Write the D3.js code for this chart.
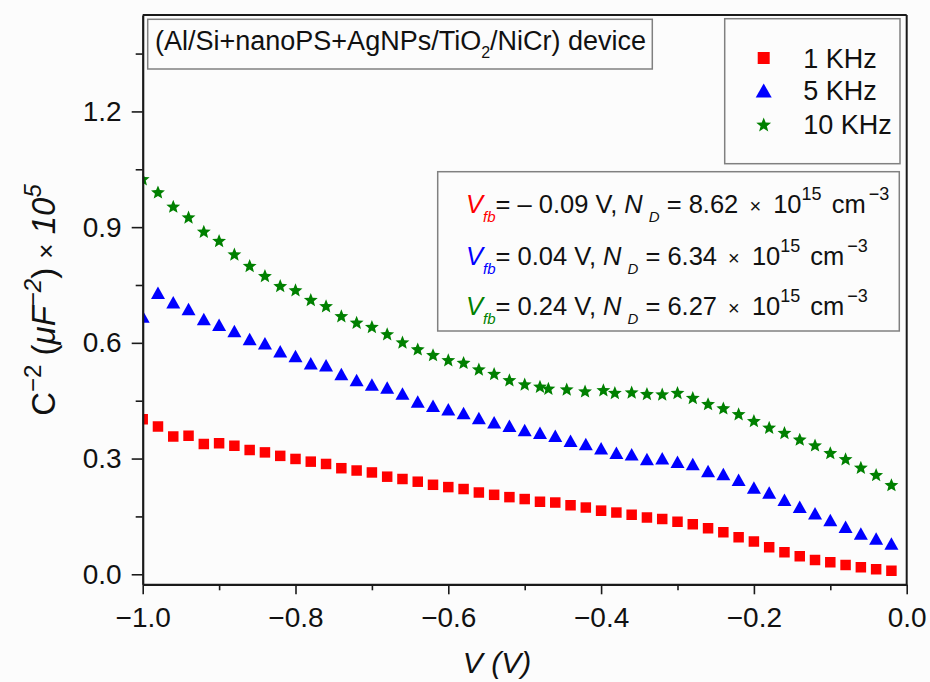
<!DOCTYPE html>
<html>
<head>
<meta charset="utf-8">
<script src="https://cdn.jsdelivr.net/npm/d3@7"></script>
<style>
  html, body { margin: 0; padding: 0; background: #fcfcfc; }
  svg { display: block; }
  text { font-family: "Liberation Sans", Arial, sans-serif; }
</style>
</head>
<body>
<svg id="chart" width="930" height="682"></svg>
<script>
// ---- data ----------------------------------------------------------------
const voltage = [
  -1.00, -0.98, -0.96, -0.94, -0.92, -0.90, -0.88, -0.86, -0.84, -0.82,
  -0.80, -0.78, -0.76, -0.74, -0.72, -0.70, -0.68, -0.66, -0.64, -0.62,
  -0.60, -0.58, -0.56, -0.54, -0.52, -0.50, -0.48, -0.46, -0.44, -0.42,
  -0.40, -0.38, -0.36, -0.34, -0.32, -0.30, -0.28, -0.26, -0.24, -0.22,
  -0.20, -0.18, -0.16, -0.14, -0.12, -0.10, -0.08, -0.06, -0.04, -0.02
];
// the 10 kHz sweep has a few unevenly spaced points near -0.4 V
const voltage10k = [
  -1.00, -0.98, -0.96, -0.94, -0.92, -0.90, -0.88, -0.86, -0.84, -0.82,
  -0.80, -0.78, -0.76, -0.74, -0.72, -0.70, -0.68, -0.66, -0.64, -0.62,
  -0.60, -0.58, -0.56, -0.54, -0.52, -0.50, -0.48, -0.469, -0.445, -0.421,
  -0.397, -0.382, -0.36, -0.34, -0.32, -0.30, -0.28, -0.26, -0.24, -0.22,
  -0.20, -0.18, -0.16, -0.14, -0.12, -0.10, -0.08, -0.06, -0.04, -0.02
];
const c2_1k = [
  0.402, 0.383, 0.357, 0.359, 0.338, 0.340, 0.333, 0.322, 0.316, 0.307,
  0.299, 0.292, 0.286, 0.275, 0.269, 0.264, 0.253, 0.247, 0.240, 0.232,
  0.226, 0.221, 0.212, 0.206, 0.200, 0.195, 0.188, 0.186, 0.179, 0.173,
  0.165, 0.160, 0.154, 0.147, 0.143, 0.136, 0.130, 0.119, 0.109, 0.096,
  0.085, 0.070, 0.057, 0.047, 0.037, 0.031, 0.024, 0.018, 0.013, 0.009
];
const c2_5k = [
  0.668, 0.730, 0.705, 0.688, 0.662, 0.647, 0.631, 0.610, 0.599, 0.578,
  0.566, 0.547, 0.542, 0.519, 0.504, 0.492, 0.484, 0.469, 0.448, 0.437,
  0.428, 0.418, 0.405, 0.394, 0.385, 0.374, 0.367, 0.359, 0.346, 0.338,
  0.327, 0.315, 0.311, 0.299, 0.301, 0.292, 0.286, 0.268, 0.260, 0.245,
  0.225, 0.212, 0.193, 0.175, 0.158, 0.141, 0.123, 0.106, 0.093, 0.080
];
const c2_10k = [
  1.025, 0.991, 0.954, 0.926, 0.889, 0.865, 0.830, 0.800, 0.774, 0.748,
  0.737, 0.712, 0.696, 0.670, 0.653, 0.642, 0.623, 0.602, 0.584, 0.569,
  0.556, 0.549, 0.532, 0.520, 0.504, 0.493, 0.487, 0.482, 0.480, 0.475,
  0.478, 0.471, 0.472, 0.468, 0.467, 0.471, 0.458, 0.442, 0.431, 0.416,
  0.398, 0.381, 0.367, 0.350, 0.335, 0.315, 0.299, 0.277, 0.258, 0.232
];

const seriesNames = ["1 KHz", "5 KHz", "10 KHz"];
const seriesColors = ["#ff0000", "#0000ff", "#008000"];
const flatBandV = ["– 0.09", "0.04", "0.24"];
const donorDensity = ["8.62", "6.34", "6.27"];

const xMajorTicks = [-1.0, -0.8, -0.6, -0.4, -0.2, 0.0];
const xMinorTicks = [-0.9, -0.7, -0.5, -0.3, -0.1];
const yMajorTicks = [0.0, 0.3, 0.6, 0.9, 1.2];
const yMinorTicks = [0.15, 0.45, 0.75, 1.05, 1.35];

const deviceTitle = "(Al/Si+nanoPS+AgNPs/TiO";
const deviceTitleTail = "/NiCr) device";

(function draw() {
  // ---- layout ------------------------------------------------------------
  const svg = d3.select("#chart");
  const plotLeft = 142.7, plotRight = 906.7, plotTop = 15, plotBottom = 584.3;

  const x = d3.scaleLinear().domain([-1.0, 0.0]).range([plotLeft, plotRight]);
  const y = d3.scaleLinear().domain([-0.026, 1.45]).range([plotBottom, plotTop]);

  const frameColor = "#1a1a1a";
  const boxColor = "#808080";
  const bg = "#fcfcfc";
  const tickFont = 28;
  const fmt = d3.format(".1f");

  svg.append("defs").append("clipPath").attr("id", "plot-clip")
    .append("rect").attr("x", plotLeft).attr("y", plotTop)
    .attr("width", plotRight - plotLeft).attr("height", plotBottom - plotTop);

  // ---- markers (clipped to the plot frame) ---------------------------------
  const triangleShape = (w, h) => ({
    draw(ctx) {
      ctx.moveTo(0, -h / 2);
      ctx.lineTo(w / 2, h / 2);
      ctx.lineTo(-w / 2, h / 2);
      ctx.closePath();
    }
  });
  const starShape = (outer, inner) => ({
    draw(ctx) {
      for (let k = 0; k < 10; k++) {
        const r = k % 2 === 0 ? outer : inner;
        const a = -Math.PI / 2 + k * Math.PI / 5;
        const px = r * Math.cos(a), py = r * Math.sin(a) + outer * 0.09;
        if (k === 0) ctx.moveTo(px, py); else ctx.lineTo(px, py);
      }
      ctx.closePath();
    }
  });
  const markerPath = [
    d3.symbol(d3.symbolSquare, 10.5 * 10.5),
    d3.symbol(triangleShape(14, 12.5)),
    d3.symbol(starShape(7.3, 3.2))
  ];
  const legendMarkerPath = [
    d3.symbol(d3.symbolSquare, 12 * 12),
    d3.symbol(triangleShape(16, 14)),
    d3.symbol(starShape(7.8, 3.3))
  ];

  const seriesData = [
    voltage.map((v, i) => ({ v, c: c2_1k[i] })),
    voltage.map((v, i) => ({ v, c: c2_5k[i] })),
    voltage10k.map((v, i) => ({ v, c: c2_10k[i] }))
  ];

  const markerLayer = svg.append("g").attr("clip-path", "url(#plot-clip)");
  seriesData.forEach((pts, s) => {
    markerLayer.append("g").selectAll("path").data(pts).join("path")
      .attr("d", markerPath[s]())
      .attr("transform", d => `translate(${x(d.v)},${y(d.c)})`)
      .attr("fill", seriesColors[s]);
  });

  // ---- axes --------------------------------------------------------------
  svg.append("g").attr("transform", `translate(0,${plotBottom})`)
    .call(d3.axisBottom(x).tickValues(xMajorTicks).tickSize(10).tickSizeOuter(0)
      .tickPadding(13).tickFormat(fmt));
  svg.append("g").attr("transform", `translate(0,${plotBottom})`)
    .call(d3.axisBottom(x).tickValues(xMinorTicks).tickSize(6).tickSizeOuter(0).tickFormat(""))
    .call(g => g.select(".domain").remove());

  svg.append("g").attr("transform", `translate(${plotLeft},0)`)
    .call(d3.axisLeft(y).tickValues(yMajorTicks).tickSize(11).tickSizeOuter(0)
      .tickPadding(10).tickFormat(fmt));
  svg.append("g").attr("transform", `translate(${plotLeft},0)`)
    .call(d3.axisLeft(y).tickValues(yMinorTicks).tickSize(7).tickSizeOuter(0).tickFormat(""))
    .call(g => g.select(".domain").remove());

  svg.selectAll(".tick line").attr("stroke", frameColor).attr("stroke-width", 1.6);
  svg.selectAll(".domain").attr("stroke", frameColor).attr("stroke-width", 2.2);
  svg.selectAll(".tick text")
    .attr("font-family", "'Liberation Sans', Arial, sans-serif")
    .attr("font-size", tickFont).attr("fill", "#111");

  // top and right frame lines
  svg.append("line").attr("x1", plotLeft).attr("x2", plotRight)
    .attr("y1", plotTop).attr("y2", plotTop)
    .attr("stroke", frameColor).attr("stroke-width", 2);
  svg.append("line").attr("x1", plotRight).attr("x2", plotRight)
    .attr("y1", plotTop).attr("y2", plotBottom)
    .attr("stroke", frameColor).attr("stroke-width", 2);

  // ---- axis titles -------------------------------------------------------
  svg.append("text").attr("x", 497).attr("y", 673)
    .attr("text-anchor", "middle").attr("font-size", 30).attr("font-style", "italic")
    .attr("fill", "#111").text("V (V)");

  const yTitle = svg.append("text")
    .attr("transform", "translate(55,300) rotate(-90)")
    .attr("text-anchor", "middle").attr("font-size", 33).attr("fill", "#111");
  yTitle.append("tspan").text("C");
  yTitle.append("tspan").attr("dy", -14).attr("font-size", 24).text("−2");
  yTitle.append("tspan").attr("dy", 14).text(" (");
  yTitle.append("tspan").attr("font-style", "italic").text("μF");
  yTitle.append("tspan").attr("dy", -14).attr("font-size", 24).attr("font-style", "italic").text("−2");
  yTitle.append("tspan").attr("dy", 14).text(") ");
  yTitle.append("tspan").attr("font-size", 26).text("×");
  yTitle.append("tspan").attr("font-style", "italic").text(" 10");
  yTitle.append("tspan").attr("dy", -14).attr("font-size", 24).attr("font-style", "italic").text("5");

  // ---- device title box --------------------------------------------------
  svg.append("rect").attr("x", 147.7).attr("y", 19.3).attr("width", 504.6).attr("height", 49.7)
    .attr("fill", bg).attr("stroke", boxColor).attr("stroke-width", 1.5);
  const title = svg.append("text").attr("x", 155).attr("y", 50)
    .attr("font-size", 27).attr("fill", "#111");
  title.append("tspan").text(deviceTitle);
  title.append("tspan").attr("dy", 8).attr("font-size", 16).text("2");
  title.append("tspan").attr("dy", -8).text(deviceTitleTail);

  // ---- legend ------------------------------------------------------------
  svg.append("rect").attr("x", 724.7).attr("y", 18.7).attr("width", 175.3).attr("height", 145)
    .attr("fill", bg).attr("stroke", boxColor).attr("stroke-width", 1.5);
  const legendY = [58, 90.5, 124.5];
  seriesNames.forEach((name, s) => {
    svg.append("path").attr("d", legendMarkerPath[s]())
      .attr("transform", `translate(763.7,${legendY[s]})`).attr("fill", seriesColors[s]);
    svg.append("text").attr("x", 803.3).attr("y", legendY[s] + 9.5)
      .attr("font-size", 27).attr("fill", "#111").text(name);
  });

  // ---- flat-band / doping annotation -------------------------------------
  svg.append("rect").attr("x", 437.7).attr("y", 171.7).attr("width", 461.6).attr("height", 159.3)
    .attr("fill", bg).attr("stroke", boxColor).attr("stroke-width", 1.5);
  const noteBaselines = [213.3, 265, 315];
  seriesNames.forEach((_, s) => {
    const t = svg.append("text").attr("x", 466).attr("y", noteBaselines[s])
      .attr("font-size", 25.5).attr("fill", "#111");
    t.append("tspan").attr("font-style", "italic").attr("fill", seriesColors[s]).text("V");
    t.append("tspan").attr("font-style", "italic").attr("fill", seriesColors[s])
      .attr("font-size", 15).attr("dy", 9).text("fb");
    t.append("tspan").attr("dy", -9).text(`= ${flatBandV[s]} V, `);
    t.append("tspan").attr("font-style", "italic").text("N");
    t.append("tspan").attr("font-style", "italic").attr("font-size", 15)
      .attr("dy", 9).attr("dx", 6).text("D");
    t.append("tspan").attr("dy", -9).text(` = ${donorDensity[s]} `);
    t.append("tspan").attr("font-size", 20).attr("dx", 4).text("×");
    t.append("tspan").attr("dx", 5).text(" 10");
    t.append("tspan").attr("font-size", 18).attr("dy", -13).text("15");
    t.append("tspan").attr("dy", 13).attr("dx", 3).text(" cm");
    t.append("tspan").attr("font-size", 18).attr("dy", -13).attr("dx", 3).text("−3");
  });
})();
</script>
</body>
</html>
